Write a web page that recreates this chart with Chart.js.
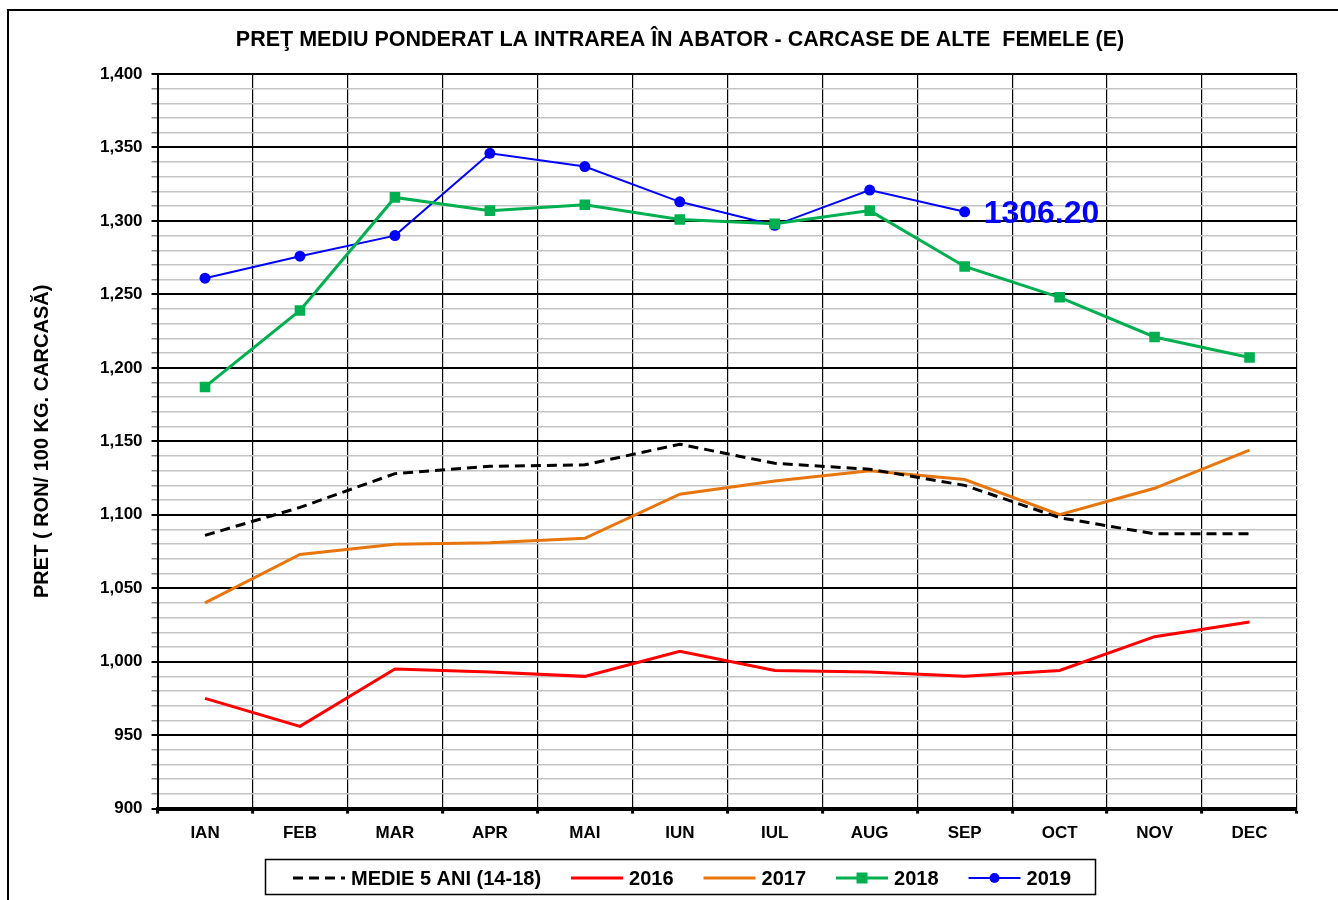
<!DOCTYPE html>
<html>
<head>
<meta charset="utf-8">
<script src="https://cdn.jsdelivr.net/npm/chart.js"></script>
<style>
  body { margin: 0; background: #fff; }
  canvas { display: block; }
</style>
</head>
<body>
<canvas id="grafic" width="1338" height="900"></canvas>
<script>
const luni = ['IAN', 'FEB', 'MAR', 'APR', 'MAI', 'IUN', 'IUL', 'AUG', 'SEP', 'OCT', 'NOV', 'DEC'];
const medie5ani = [1086, 1105, 1128, 1133, 1134, 1148, 1135, 1131, 1120, 1098, 1087, 1087];
const an2016 = [975, 956, 995, 993, 990, 1007, 994, 993, 990, 994, 1017, 1027];
const an2017 = [1040, 1073, 1080, 1081, 1084, 1114, 1123, 1130, 1124, 1100, 1118, 1144];
const an2018 = [1187, 1239, 1316, 1307, 1311, 1301, 1298, 1307, 1269, 1248, 1221, 1207];
const an2019 = [1261, 1276, 1290, 1346, 1337, 1313, 1297, 1321, 1306.2, null, null, null];
const ultimaValoare = '1306.20';

const titlu = 'PREŢ MEDIU PONDERAT LA INTRAREA ÎN ABATOR - CARCASE DE ALTE  FEMELE (E)';
const titluAxaY = 'PRET ( RON/ 100 KG. CARCASĂ)';

const FONT = '"Liberation Sans", Arial, sans-serif';
Chart.defaults.font.family = FONT;
Chart.defaults.color = '#000';

// titlu, cadru, eticheta ultimei valori si legenda in stil Excel
const desenExcel = {
  id: 'desenExcel',
  afterDraw(chart) {
    const ctx = chart.ctx;
    ctx.save();

    // cadrul exterior
    ctx.strokeStyle = '#000';
    ctx.lineWidth = 2;
    ctx.beginPath();
    ctx.moveTo(8, 900);
    ctx.lineTo(8, 10);
    ctx.lineTo(1338, 10);
    ctx.stroke();

    // titlu
    ctx.fillStyle = '#000';
    ctx.font = 'bold 21.5px ' + FONT;
    ctx.textAlign = 'center';
    ctx.textBaseline = 'middle';
    ctx.fillText(titlu, 680, 40);

    // valoarea din ultima luna 2019
    const meta = chart.getDatasetMeta(4);
    let idx = an2019.length - 1;
    while (idx > 0 && an2019[idx] === null) idx--;
    const p = meta.data[idx];
    ctx.font = 'bold 32px ' + FONT;
    ctx.fillStyle = '#0000ff';
    ctx.textAlign = 'left';
    ctx.fillText(ultimaValoare, p.x + 19, p.y + 2);

    // legenda
    ctx.font = 'bold 20px ' + FONT;
    const mostra = 52, spatiuText = 6, spatiuItem = 30;
    const items = chart.data.datasets.map(ds => ({ ds, w: ctx.measureText(ds.label).width }));
    const total = items.reduce((s, it) => s + mostra + spatiuText + it.w, 0) + spatiuItem * (items.length - 1);
    const cx = 682, cy = 878;
    let x = cx - total / 2;
    ctx.strokeStyle = '#000';
    ctx.lineWidth = 1.5;
    ctx.strokeRect(Math.round(x - 28) + 0.5, 859.5, Math.round(total + 52), 35);
    items.forEach(it => {
      const ds = it.ds;
      ctx.strokeStyle = ds.borderColor;
      ctx.lineWidth = ds.borderWidth;
      ctx.setLineDash(ds.borderDash || []);
      ctx.beginPath();
      ctx.moveTo(x, cy);
      ctx.lineTo(x + mostra, cy);
      ctx.stroke();
      ctx.setLineDash([]);
      if (ds.pointRadius > 0) {
        ctx.fillStyle = ds.borderColor;
        const mx = x + mostra / 2;
        ctx.beginPath();
        if (ds.pointStyle === 'rect') {
          ctx.rect(mx - 5.5, cy - 5.5, 11, 11);
        } else {
          ctx.arc(mx, cy, 5, 0, Math.PI * 2);
        }
        ctx.fill();
      }
      ctx.fillStyle = '#000';
      ctx.textAlign = 'left';
      ctx.fillText(ds.label, x + mostra + spatiuText, cy + 1);
      x += mostra + spatiuText + it.w + spatiuItem;
    });
    ctx.restore();
  }
};

const e50 = v => Math.round(v) % 50 === 0;

new Chart(document.getElementById('grafic'), {
  type: 'line',
  data: {
    labels: luni,
    datasets: [
      {
        label: 'MEDIE 5 ANI (14-18)',
        data: medie5ani,
        borderColor: '#000000',
        borderWidth: 3,
        borderDash: [10, 6],
        pointRadius: 0
      },
      {
        label: '2016',
        data: an2016,
        borderColor: '#ff0000',
        borderWidth: 3,
        pointRadius: 0
      },
      {
        label: '2017',
        data: an2017,
        borderColor: '#e8760e',
        borderWidth: 3,
        pointRadius: 0
      },
      {
        label: '2018',
        data: an2018,
        borderColor: '#00b050',
        backgroundColor: '#00b050',
        borderWidth: 3,
        pointStyle: 'rect',
        pointRadius: 7.5,
        pointBorderWidth: 0
      },
      {
        label: '2019',
        data: an2019,
        borderColor: '#0000ff',
        backgroundColor: '#0000ff',
        borderWidth: 2,
        pointStyle: 'circle',
        pointRadius: 5.5,
        pointBorderWidth: 0
      }
    ]
  },
  options: {
    responsive: false,
    animation: false,
    spanGaps: false,
    layout: { padding: { left: 14, right: 41, top: 74, bottom: 46 } },
    scales: {
      x: {
        offset: true,
        grid: { offset: true, color: '#000', lineWidth: 1.2, tickLength: 5, tickColor: '#000', tickWidth: 3 },
        border: { color: '#000', width: 4 },
        ticks: { color: '#000', font: { size: 17, weight: 'bold' }, padding: 10 }
      },
      y: {
        min: 900,
        max: 1400,
        ticks: {
          stepSize: 10,
          autoSkip: false,
          color: '#000',
          font: { size: 17, weight: 'bold' },
          padding: 9,
          callback: v => e50(v) ? v.toLocaleString('en-US') : ''
        },
        grid: {
          color: c => e50(c.tick.value) ? '#000' : '#c4c4c4',
          lineWidth: c => e50(c.tick.value) ? 2 : 1.5,
          tickLength: 6,
          tickColor: c => e50(c.tick.value) ? '#000' : '#888'
        },
        border: { color: '#000', width: 2 },
        title: {
          display: true,
          text: titluAxaY,
          color: '#000',
          font: { size: 20, weight: 'bold' },
          padding: { top: 16, bottom: 37 }
        }
      }
    },
    plugins: {
      legend: { display: false },
      title: { display: false },
      tooltip: { enabled: false }
    }
  },
  plugins: [desenExcel]
});
</script>
</body>
</html>
